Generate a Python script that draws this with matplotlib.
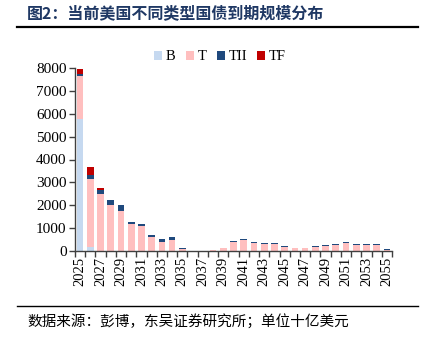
import matplotlib
matplotlib.use("Agg")
import matplotlib.pyplot as plt
import numpy as np
from matplotlib.lines import Line2D

years = list(range(2025, 2056))
B = [5790, 190, 0, 0, 0, 0, 0, 0, 0, 0, 0, 0, 0, 0, 0, 0, 0, 0, 0, 0, 0, 0, 0, 0, 0, 0, 0, 0, 0, 0, 0]
T = [1880, 2960, 2490, 2020, 1760, 1160, 1080, 600, 410, 470, 100, 15, 15, 25, 110, 400, 480, 360, 300, 300, 170, 120, 130, 170, 220, 280, 340, 260, 250, 280, 60]
TII = [80, 180, 160, 220, 230, 115, 120, 120, 120, 130, 50, 5, 5, 5, 10, 40, 40, 40, 40, 40, 30, 20, 20, 30, 30, 30, 40, 40, 50, 30, 10]
TF = [200, 330, 120, 0, 0, 0, 0, 0, 0, 0, 0, 0, 0, 0, 0, 0, 0, 0, 0, 0, 0, 0, 0, 0, 0, 0, 0, 0, 0, 0, 0]
series_names = ["B", "T", "TII", "TF"]
colors = ["#c6d9f0", "#ffbfbf", "#1f497d", "#c00000"]
title = "图2：当前美国不同类型国债到期规模分布"
footer = "数据来源：彭博，东吴证券研究所；单位十亿美元"

plt.rcParams['font.family'] = ['Noto Sans CJK SC', 'DejaVu Sans']

fig = plt.figure(figsize=(4.22, 3.42), dpi=100)
ax = fig.add_axes([75/422, 1-251/342, (392-75)/422, (251-68)/342])

x = np.arange(len(years))
bottom = np.zeros(len(years))
for name, vals, c in zip(series_names, [B, T, TII, TF], colors):
    vals = np.array(vals, dtype=float)
    ax.bar(x, vals, width=0.65, bottom=bottom, color=c, label=name, zorder=2)
    bottom += vals

ax.set_xlim(-0.5, len(years) - 0.5)
ax.set_ylim(0, 8000)
ax.set_yticks(range(0, 8001, 1000))
ax.set_yticklabels([str(v) for v in range(0, 8001, 1000)], family='Liberation Serif', fontsize=11)
ax.set_xticks(x[::2])
ax.set_xticklabels([str(y) for y in years[::2]], rotation=90, family='Liberation Serif', fontsize=10.5)
ax.set_xticks(np.arange(-0.5, len(years), 1), minor=True)
ax.tick_params(axis='x', which='major', length=0, pad=4)
ax.tick_params(axis='x', which='minor', length=4, width=1, direction='out', color='#404040')
ax.tick_params(axis='y', length=4, width=1, direction='out', color='#404040', pad=2)
for s in ['top', 'right']:
    ax.spines[s].set_visible(False)
ax.spines['left'].set_color('#404040')
ax.spines['bottom'].set_color('#404040')
ax.spines['left'].set_linewidth(1)
ax.spines['bottom'].set_linewidth(1)

leg = fig.legend(loc='center', bbox_to_anchor=(220/422, 1-57/342), ncol=4, frameon=False,
                 prop={'family': 'Liberation Serif', 'size': 10.5}, handlelength=0.55, handleheight=0.55,
                 handletextpad=0.25, columnspacing=0.7, borderpad=0, borderaxespad=0)

fig.text(27/422, 1-13/342, title, fontsize=11.5, fontweight='bold', color='#1f3864', va='center', ha='left')
fig.add_artist(Line2D([17/422, 418/422], [1-27/342, 1-27/342], color='black', lw=1.6))
fig.add_artist(Line2D([17/422, 418/422], [1-306/342, 1-306/342], color='black', lw=1.0))
fig.text(27/422, 1-322/342, footer, fontsize=10.5, color='black', va='center', ha='left')

fig.savefig("out.png", dpi=100)
